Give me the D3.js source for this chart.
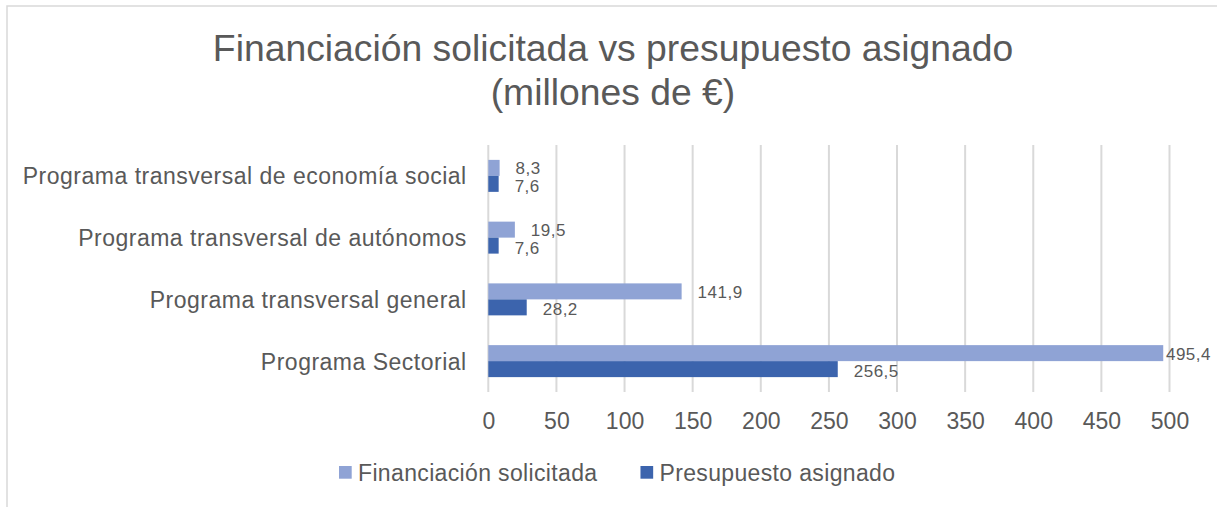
<!DOCTYPE html>
<html><head><meta charset="utf-8">
<script src="https://cdn.jsdelivr.net/npm/d3@7"></script>
<style>
html,body{margin:0;padding:0;background:#fff;}
svg{display:block;font-family:"Liberation Sans",Arial,sans-serif;}
</style></head>
<body><svg id="chart" width="1217" height="507"></svg>
<script>
const titleLines = ["Financiación solicitada vs presupuesto asignado", "(millones de €)"];
const categories = ["Programa transversal de economía social", "Programa transversal de autónomos", "Programa transversal general", "Programa Sectorial"];
const seriesNames = ["Financiación solicitada", "Presupuesto asignado"];
const solicitada = [8.3, 19.5, 141.9, 495.4];
const asignado = [7.6, 7.6, 28.2, 256.5];
const xTicks = [0, 50, 100, 150, 200, 250, 300, 350, 400, 450, 500];
const colors = ["#8FA3D5", "#3C64AD"];

const seriesValues = [solicitada, asignado];
const svg = d3.select("#chart");
const textColor = "#595959";
const fmt = v => d3.format(".1f")(v).replace(".", ",");

// chart border
svg.append("path").attr("d", "M7,507 V6 H1217").attr("fill", "none")
  .attr("stroke", "#D9D9D9").attr("stroke-width", 1.5);

// title
const title = svg.append("text").attr("text-anchor", "middle").attr("fill", textColor)
  .style("font-size", "37.3px");
titleLines.forEach((t, i) => title.append("tspan").attr("x", 613).attr("y", 61 + i * 44).text(t));

const x = d3.scaleLinear().domain([0, 500]).range([488.3, 1169.5]);
const y = d3.scaleBand().domain(categories).range([145, 392]).paddingInner(0.482).paddingOuter(0.241);
const ySub = d3.scaleBand().domain(d3.range(seriesNames.length)).range([0, y.bandwidth()]);

// grid
svg.append("g").selectAll("line").data(xTicks).join("line")
  .attr("x1", d => x(d)).attr("x2", d => x(d)).attr("y1", 145).attr("y2", 392)
  .attr("stroke", "#D9D9D9").attr("stroke-width", 2);

// x axis labels
const xAxis = svg.append("g").attr("transform", "translate(0,406)")
  .call(d3.axisBottom(x).tickValues(xTicks).tickSize(0).tickPadding(0).tickFormat(d3.format("d")));
xAxis.select(".domain").remove();
xAxis.selectAll("text").attr("fill", textColor).attr("dy", null).attr("y", 23)
  .style("font-size", "23px").style("font-family", "'Liberation Sans',Arial,sans-serif");

// y axis labels
const yAxis = svg.append("g").attr("transform", "translate(466.7,0)")
  .call(d3.axisLeft(y).tickSize(0).tickPadding(0));
yAxis.select(".domain").remove();
yAxis.selectAll("text").attr("fill", textColor).attr("dy", "0.37em").attr("x", 0)
  .style("font-size", "23px").style("letter-spacing", "0.5px")
  .style("font-family", "'Liberation Sans',Arial,sans-serif");

// bars
const rightBound = 1211;
seriesValues.forEach((vals, s) => {
  const g = svg.append("g");
  g.selectAll("rect").data(vals).join("rect")
    .attr("x", x(0))
    .attr("y", (d, i) => y(categories[i]) + ySub(s))
    .attr("width", d => x(d) - x(0))
    .attr("height", ySub.bandwidth())
    .attr("fill", colors[s]);
  g.selectAll("text").data(vals).join("text")
    .attr("y", (d, i) => y(categories[i]) + ySub(s) + ySub.bandwidth() / 2 + (s === 0 ? 6.5 : 8))
    .attr("fill", textColor).style("font-size", "17px").style("letter-spacing", "0.5px")
    .text(d => fmt(d))
    .each(function(d) {
      const w = this.getComputedTextLength();
      const xx = Math.min(x(d) + 16, rightBound - w);
      d3.select(this).attr("x", Math.max(xx, x(d) + 1));
    });
});

// legend
const legend = svg.append("g");
let lx = 339;
seriesNames.forEach((name, s) => {
  legend.append("rect").attr("x", lx).attr("y", 466).attr("width", 12.7).attr("height", 12.7).attr("fill", colors[s]);
  const t = legend.append("text").attr("x", lx + 19).attr("y", 481).attr("fill", textColor)
    .style("font-size", "23px").style("letter-spacing", "0.35px").text(name);
  lx = lx + 19 + t.node().getComputedTextLength() + 43;
});
</script></body></html>
